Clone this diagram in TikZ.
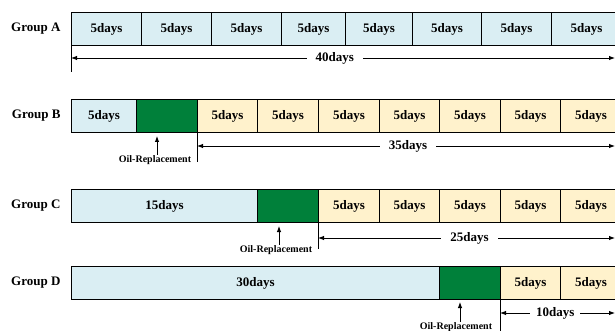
\documentclass[tikz,border=0pt]{standalone}
\usepackage{fontspec}
\setmainfont{Liberation Serif}
\usetikzlibrary{arrows.meta}

\definecolor{lblue}{RGB}{218,238,243}
\definecolor{lyellow}{RGB}{255,242,204}
\definecolor{oilgreen}{RGB}{0,128,58}

\begin{document}
\begin{tikzpicture}[x=1pt,y=-1pt,
	cell/.style={draw,line width=1pt,minimum height=33pt,inner sep=0pt,anchor=north west,font=\bfseries\fontsize{13}{15}\selectfont},
	grp/.style={anchor=east,font=\bfseries\fontsize{13}{15}\selectfont},
	dim/.style={line width=0.9pt,{Latex[length=6pt,width=4.5pt]}-{Latex[length=6pt,width=4.5pt]}},
	span/.style={fill=white,inner xsep=9pt,inner ysep=1pt,font=\bfseries\fontsize{13}{15}\selectfont},
	tick/.style={line width=0.9pt},
	up/.style={line width=0.9pt,-{Latex[length=6pt,width=4.5pt]}},
	oil/.style={font=\bfseries\fontsize{10}{12}\selectfont,inner sep=1pt}]
%	\draw[step=10,red,very thin] (0,0) grid (615,331);

	\clip (0,0) rectangle (615,331);

	% Group A
	\node[grp] (gA) at (64,28.5) {Group A};
	\node[cell,fill=lblue,minimum width=70pt] (a1) at (71,12) {5days};
	\node[cell,fill=lblue,minimum width=70pt] (a2) at (141,12) {5days};
	\node[cell,fill=lblue,minimum width=70pt] (a3) at (211,12) {5days};
	\node[cell,fill=lblue,minimum width=64pt] (a4) at (281,12) {5days};
	\node[cell,fill=lblue,minimum width=67pt] (a5) at (345,12) {5days};
	\node[cell,fill=lblue,minimum width=69pt] (a6) at (412,12) {5days};
	\node[cell,fill=lblue,minimum width=70pt] (a7) at (481,12) {5days};
	\node[cell,fill=lblue,minimum width=70pt] (a8) at (551,12) {5days};

	\coordinate (aL) at (71,58);
	\coordinate (aR) at (615,58);
	\draw[tick] (a1.south west) -- (71,72);
	\draw[dim] (aL) -- node[span,pos=0.485] {40days} (aR);

	% Group B
	\node[grp] (gB) at (64,116) {Group B};
	\node[cell,fill=lblue,minimum width=65pt] (b1) at (71,99) {5days};
	\node[cell,fill=oilgreen,minimum width=61pt] (b2) at (136,99) {};
	\node[cell,fill=lyellow,minimum width=60pt] (b3) at (197,99) {5days};
	\node[cell,fill=lyellow,minimum width=61pt] (b4) at (257,99) {5days};
	\node[cell,fill=lyellow,minimum width=61pt] (b5) at (318,99) {5days};
	\node[cell,fill=lyellow,minimum width=60pt] (b6) at (379,99) {5days};
	\node[cell,fill=lyellow,minimum width=61pt] (b7) at (439,99) {5days};
	\node[cell,fill=lyellow,minimum width=60pt] (b8) at (500,99) {5days};
	\node[cell,fill=lyellow,minimum width=61pt] (b9) at (560,99) {5days};

	\coordinate (bT) at (157,136);
	\node[oil] (oB) at (155,160.5) {Oil-Replacement};
	\draw[up] (oB.north -| bT) -- (bT);
	\coordinate (bL) at (197,146);
	\coordinate (bR) at (615,146);
	\draw[tick] (b3.south west) -- (197,162);
	\draw[dim] (bL) -- node[span,pos=0.505] {35days} (bR);

	% Group C
	\node[grp] (gC) at (64,206) {Group C};
	\node[cell,fill=lblue,minimum width=186pt] (c1) at (71,189) {15days};
	\node[cell,fill=oilgreen,minimum width=61pt] (c2) at (257,189) {};
	\node[cell,fill=lyellow,minimum width=61pt] (c3) at (318,189) {5days};
	\node[cell,fill=lyellow,minimum width=60pt] (c4) at (379,189) {5days};
	\node[cell,fill=lyellow,minimum width=61pt] (c5) at (439,189) {5days};
	\node[cell,fill=lyellow,minimum width=60pt] (c6) at (500,189) {5days};
	\node[cell,fill=lyellow,minimum width=61pt] (c7) at (560,189) {5days};

	\coordinate (cT) at (279,226);
	\node[oil] (oC) at (276,250.5) {Oil-Replacement};
	\draw[up] (oC.north -| cT) -- (cT);
	\coordinate (cL) at (318,238);
	\coordinate (cR) at (615,238);
	\draw[tick] (c3.south west) -- (318,249);
	\draw[dim] (cL) -- node[span,pos=0.51] {25days} (cR);

	% Group D
	\node[grp] (gD) at (64,282.5) {Group D};
	\node[cell,fill=lblue,minimum width=368pt] (d1) at (71,266) {30days};
	\node[cell,fill=oilgreen,minimum width=61pt] (d2) at (439,266) {};
	\node[cell,fill=lyellow,minimum width=60pt] (d3) at (500,266) {5days};
	\node[cell,fill=lyellow,minimum width=61pt] (d4) at (560,266) {5days};

	\coordinate (dT) at (460,302);
	\node[oil] (oD) at (456,327.5) {Oil-Replacement};
	\draw[up] (oD.north -| dT) -- (dT);
	\coordinate (dL) at (500,313);
	\coordinate (dR) at (615,313);
	\draw[tick] (d3.south west) -- (500,331);
	\draw[dim] (dL) -- node[span,pos=0.48,inner xsep=6pt] {10days} (dR);
\end{tikzpicture}
\end{document}
